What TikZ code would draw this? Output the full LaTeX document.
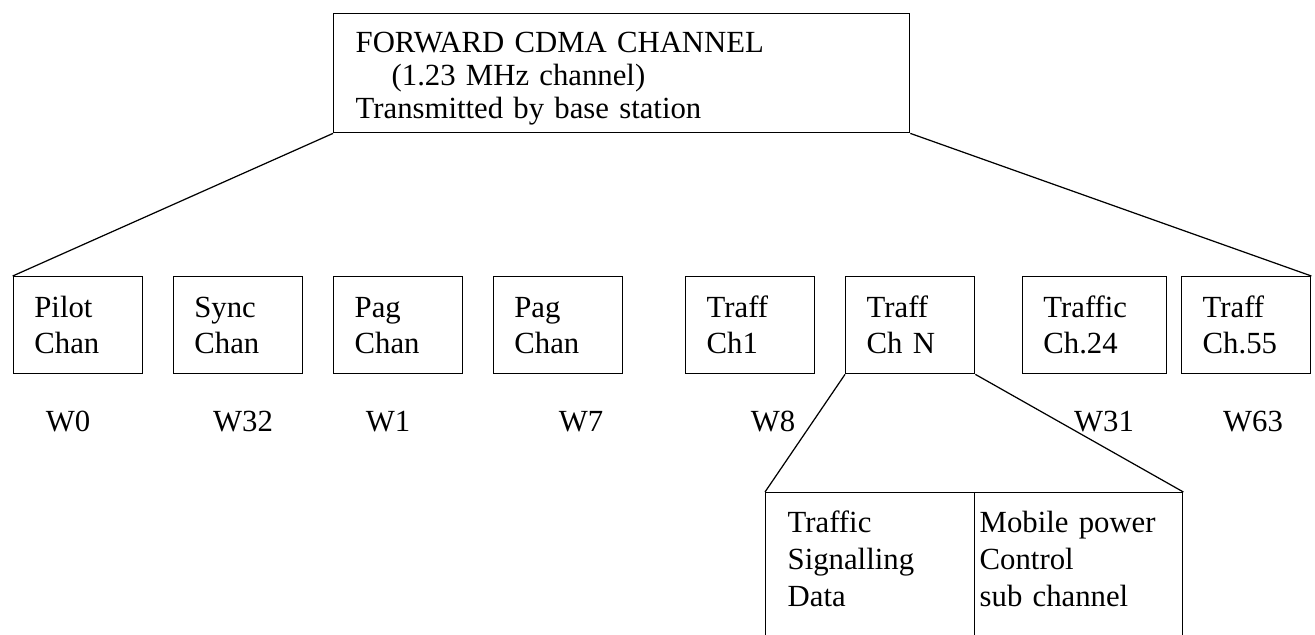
\documentclass[tikz,border=0pt]{standalone}
\usepackage{fontspec}
\setmainfont{Liberation Serif}
\usepackage{tikz}

\begin{document}
\begin{tikzpicture}[x=0.02cm,y=-0.02cm,
  chan/.style={draw,line width=.8pt,anchor=north west,align=left,
    inner xsep=.42cm,inner ysep=0pt,text width=1.74cm,
    text height=.82cm,text depth=1.12cm,
    font=\fontsize{17.5}{20.5}\selectfont},
  wide/.style={text width=2.04cm},
  head/.style={draw,line width=.8pt,anchor=north west,align=left,
    inner xsep=.44cm,inner ysep=0pt,text width=10.64cm,
    text height=.78cm,text depth=1.6cm,
    font=\fontsize{17.5}{18.8}\selectfont},
  sub/.style={draw,line width=.8pt,anchor=north west,align=left,
    inner ysep=0pt,text height=.8cm,text depth=3cm,
    font=\fontsize{17.5}{21}\selectfont},
  walsh/.style={anchor=base,inner sep=0pt,font=\fontsize{17.5}{20.5}\selectfont},
  link/.style={line width=.7pt}]
\useasboundingbox (0,0) rectangle (1315,635);
% ---- forward channel box
\node[head] (fwd) at (333,13)
  {FORWARD CDMA CHANNEL\\\hspace*{.72cm}(1.23 MHz channel)\\Transmitted by base station};
% ---- code channels, row at y = 276
\node[chan] (pilot) at (12.7,276) {Pilot\\Chan};
\node[chan] (sync) at (172.7,276) {Sync\\Chan};
\node[chan] (pag1) at (333,276) {Pag\\Chan};
\node[chan] (pag7) at (492.7,276) {Pag\\Chan};
\node[chan] (traff1) at (685,276) {Traff\\Ch1};
\node[chan] (traffN) at (845,276) {Traff\\Ch N};
\node[chan,wide] (traff24) at (1021.7,276) {Traffic\\Ch.24};
\node[chan] (traff55) at (1181,276) {Traff\\Ch.55};
% ---- walsh codes
\node[walsh] (w0) at (68,431) {W0};
\node[walsh] (w32) at (243,431) {W32};
\node[walsh] (w1) at (388,431) {W1};
\node[walsh] (w7) at (581,431) {W7};
\node[walsh] (w8) at (773,431) {W8};
\node[walsh] (w31) at (1104,431) {W31};
\node[walsh] (w63) at (1253,431) {W63};
% ---- traffic channel split
\node[sub,inner xsep=.44cm,text width=3.3cm] (sigdata) at (765,492)
  {Traffic\\Signalling\\Data};
\node[sub,inner xsep=.1cm,text width=3.96cm] (pwrctl) at (974,492)
  {Mobile power\\Control\\sub channel};
% ---- fan-out lines
\draw[link] (fwd.south west) -- (pilot.north west);
\draw[link] (fwd.south east) -- (traff55.north east);
\draw[link] (traffN.south west) -- (sigdata.north west);
\draw[link] (traffN.south east) -- (pwrctl.north east);
\end{tikzpicture}
\end{document}
